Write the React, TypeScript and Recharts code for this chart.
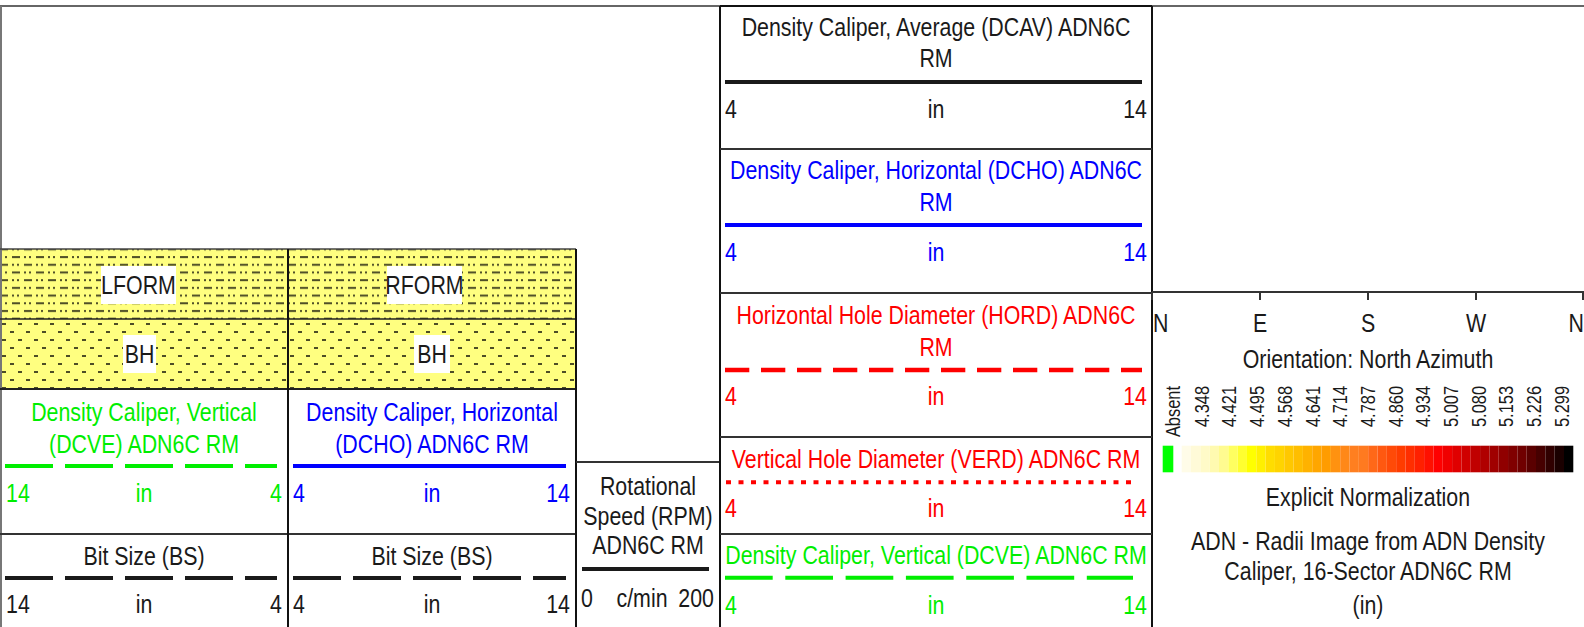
import React from "react";
import {
  ComposedChart,
  Line,
  ReferenceArea,
  ReferenceDot,
  ReferenceLine,
  XAxis,
  YAxis
} from "recharts";

const W = 1584;
const H = 627;
const FONT = "'Liberation Sans', Arial, sans-serif";
// the header font is a condensed grotesque; squeeze a regular face to match
const SQUEEZE = 0.855;

// curve headers (left tracks, rpm track, caliper track)
const curveTitles = [
  ["Density Caliper, Vertical", "(DCVE) ADN6C RM"],
  ["Bit Size (BS)"],
  ["Density Caliper, Horizontal", "(DCHO) ADN6C RM"],
  ["Bit Size (BS)"],
  ["Rotational", "Speed (RPM)", "ADN6C RM"],
  ["Density Caliper, Average (DCAV) ADN6C", "RM"],
  ["Density Caliper, Horizontal (DCHO) ADN6C", "RM"],
  ["Horizontal Hole Diameter (HORD) ADN6C", "RM"],
  ["Vertical Hole Diameter (VERD) ADN6C RM"],
  ["Density Caliper, Vertical (DCVE) ADN6C RM"]
];
const curveUnits = ["in", "in", "in", "in", "c/min", "in", "in", "in", "in", "in"];
const curveLeft = ["14", "14", "4", "4", "0", "4", "4", "4", "4", "4"];
const curveRight = ["4", "4", "14", "14", "200", "14", "14", "14", "14", "14"];

// lithology fills
const lithoNames = ["LFORM", "BH", "RFORM", "BH"];

// image track header
const compassLabels = ["N", "E", "S", "W", "N"];
const imageTitle = "Orientation: North Azimuth";
const paletteLabels = [
  "Absent", "4.348", "4.421", "4.495", "4.568", "4.641", "4.714", "4.787",
  "4.860", "4.934", "5.007", "5.080", "5.153", "5.226", "5.299"
];
const paletteColors = [
  "#fffce8", "#fffad8", "#fffac8", "#fffab0", "#fffb90", "#ffff60", "#ffff30",
  "#ffff00", "#fff000", "#ffdd00", "#ffd400", "#ffc800", "#ffbe00", "#ffb200",
  "#ffa600", "#ff9c00", "#ff9210", "#ff8818", "#ff7f20", "#ff7a20", "#ff6818",
  "#ff5810", "#ff4a08", "#ff3c00", "#ff2e00", "#ff2000", "#ff1000", "#ff0000",
  "#f00000", "#e00000", "#d00000", "#c00000", "#b00000", "#a00000", "#900000",
  "#800000", "#700000", "#5a0000", "#460000", "#300000", "#1a0000", "#000000"
];
const imageNotes = [
  "Explicit Normalization",
  "ADN - Radii Image from ADN Density",
  "Caliper, 16-Sector ADN6C RM",
  "(in)"
];

// styles
const GREEN = "#00ee00";
const BLUE = "#0000ff";
const RED = "#ff0000";
const INK = "#1a1a1a";
const curveColors = [GREEN, INK, BLUE, INK, INK, INK, BLUE, RED, RED, GREEN];
const curveDash = ["48 12", "48 12", undefined, "48 12", undefined, undefined, undefined, "24.3 11.7", "5 7.5", "47.7 12.6"];
const curveWidth = [4, 4, 4, 4, 4, 4, 4, 4.5, 4, 4];

// layout of each curve header
const boxes = [
  { cx: 144, ty: [420.7, 452.7], ly: 466, x1: 5, x2: 277, sy: 501.7, sl: 6, sr: 282, su: 144 },
  { cx: 144, ty: [565], ly: 578, x1: 5, x2: 277, sy: 613, sl: 6, sr: 282, su: 144 },
  { cx: 432, ty: [420.7, 452.7], ly: 466, x1: 293, x2: 566, sy: 501.7, sl: 293, sr: 570, su: 432 },
  { cx: 432, ty: [565], ly: 578, x1: 293, x2: 566, sy: 613, sl: 293, sr: 570, su: 432 },
  { cx: 648, ty: [494.5, 524.5, 554], ly: 569, x1: 582, x2: 709, sy: 607, sl: 581, sr: 714, su: 642 },
  { cx: 936, ty: [36, 66.7], ly: 82, x1: 725, x2: 1142, sy: 118.3, sl: 725, sr: 1147, su: 936 },
  { cx: 936, ty: [179, 211], ly: 225, x1: 725, x2: 1142, sy: 261, sl: 725, sr: 1147, su: 936 },
  { cx: 936, ty: [324, 356], ly: 370, x1: 725, x2: 1142, sy: 405, sl: 725, sr: 1147, su: 936 },
  { cx: 936, ty: [468.3], ly: 482.3, x1: 726, x2: 1133, sy: 517.3, sl: 725, sr: 1147, su: 936 },
  { cx: 936, ty: [564], ly: 577.7, x1: 725, x2: 1133, sy: 614, sl: 725, sr: 1147, su: 936 }
];

const lithoBoxes = [
  { x1: 0, x2: 288, y1: 249, y2: 319, kind: "dash", lx1: 101, lx2: 176, ly1: 266, ly2: 304, tx: 138.5, ty: 294 },
  { x1: 0, x2: 288, y1: 319, y2: 389, kind: "dot", lx1: 123, lx2: 156, ly1: 335, ly2: 373, tx: 139.5, ty: 363 },
  { x1: 288, x2: 576, y1: 249, y2: 319, kind: "dash", lx1: 387, lx2: 462, ly1: 266, ly2: 304, tx: 424.5, ty: 294 },
  { x1: 288, x2: 576, y1: 319, y2: 389, kind: "dot", lx1: 414, lx2: 450, ly1: 335, ly2: 373, tx: 432, ty: 363 }
];

// frame lines
const frame = [
  { x1: 0, y1: 6, x2: W, y2: 6, c: "#666", w: 2 },
  { x1: 720, y1: 6, x2: 1152, y2: 6, c: "#111", w: 2 },
  { x1: 1, y1: 6, x2: 1, y2: H, c: "#777", w: 2 },
  { x1: 0, y1: 249, x2: 576, y2: 249, c: "#444", w: 1.5 },
  { x1: 0, y1: 319, x2: 576, y2: 319, c: "#222", w: 1.5 },
  { x1: 0, y1: 389, x2: 576, y2: 389, c: "#222", w: 2 },
  { x1: 0, y1: 534, x2: 576, y2: 534, c: "#333", w: 2 },
  { x1: 288, y1: 249, x2: 288, y2: H, c: "#111", w: 2 },
  { x1: 576, y1: 249, x2: 576, y2: H, c: "#111", w: 2 },
  { x1: 576, y1: 462, x2: 720, y2: 462, c: "#333", w: 2 },
  { x1: 720, y1: 6, x2: 720, y2: H, c: "#111", w: 2 },
  { x1: 1152, y1: 6, x2: 1152, y2: H, c: "#111", w: 2 },
  { x1: 720, y1: 149, x2: 1152, y2: 149, c: "#333", w: 2 },
  { x1: 720, y1: 293, x2: 1152, y2: 293, c: "#333", w: 2 },
  { x1: 720, y1: 437, x2: 1152, y2: 437, c: "#333", w: 2 },
  { x1: 720, y1: 534, x2: 1152, y2: 534, c: "#333", w: 2 },
  { x1: 1152, y1: 292, x2: W, y2: 292, c: "#333", w: 2 }
];

const SIZE = 25;

type T = {
  x: number;
  y: number;
  text: string;
  color?: string;
  size?: number;
  anchor?: "start" | "middle" | "end";
  rotate?: boolean;
};

function textMark(key: string, t: T) {
  return (
    <ReferenceDot
      key={key}
      x={t.x}
      y={t.y}
      r={0}
      fill="none"
      stroke="none"
      ifOverflow="visible"
      label={{
        content: (p: any) => {
          const vb = p?.viewBox || {};
          const x = vb.x ?? p?.x ?? 0;
          const y = vb.y ?? p?.y ?? 0;
          const tf = t.rotate
            ? `translate(${x} ${y}) rotate(-90) scale(${SQUEEZE * 0.96} 1)`
            : `translate(${x} ${y}) scale(${SQUEEZE} 1)`;
          return (
            <text
              x={0}
              y={0}
              fill={t.color ?? INK}
              fontSize={t.size ?? SIZE}
              fontFamily={FONT}
              textAnchor={t.anchor ?? "middle"}
              transform={tf}
            >
              {t.text}
            </text>
          );
        }
      }}
    />
  );
}

function litho(kind: string, id: string) {
  return (p: any) => (
    <g>
      <defs>
        {kind === "dash" ? (
          <pattern id={id} width={24} height={15.4} patternUnits="userSpaceOnUse">
            <rect x={0} y={2} width={8} height={2} fill="#4d4d26" />
            <rect x={12} y={2} width={2} height={2} fill="#4d4d26" />
            <rect x={17} y={2} width={2} height={2} fill="#4d4d26" />
            <rect x={12} y={9.7} width={8} height={2} fill="#4d4d26" />
            <rect x={0} y={9.7} width={2} height={2} fill="#4d4d26" />
            <rect x={5} y={9.7} width={2} height={2} fill="#4d4d26" />
          </pattern>
        ) : (
          <pattern id={id} width={16} height={16} patternUnits="userSpaceOnUse">
            <rect x={2} y={3} width={4} height={2} fill="#4d4d26" />
            <rect x={10} y={11} width={4} height={2} fill="#4d4d26" />
          </pattern>
        )}
      </defs>
      <rect x={p.x} y={p.y} width={p.width} height={p.height} fill="#ffff80" />
      <rect x={p.x} y={p.y} width={p.width} height={p.height} fill={`url(#${id})`} />
    </g>
  );
}

export default function App() {
  const texts: T[] = [];
  boxes.forEach((b, i) => {
    const color = curveColors[i];
    curveTitles[i].forEach((line, j) => texts.push({ x: b.cx, y: b.ty[j], text: line, color }));
    texts.push({ x: b.sl, y: b.sy, text: curveLeft[i], color, anchor: "start" });
    texts.push({ x: b.su, y: b.sy, text: curveUnits[i], color });
    texts.push({ x: b.sr, y: b.sy, text: curveRight[i], color, anchor: "end" });
  });
  lithoBoxes.forEach((l, i) => texts.push({ x: l.tx, y: l.ty, text: lithoNames[i] }));

  const compassX = [1153, 1260, 1368, 1476, 1584];
  compassLabels.forEach((c, i) =>
    texts.push({
      x: compassX[i],
      y: 331.7,
      text: c,
      anchor: i === 0 ? "start" : i === compassLabels.length - 1 ? "end" : "middle"
    })
  );
  texts.push({ x: 1368, y: 368.3, text: imageTitle });
  paletteLabels.forEach((v, i) =>
    texts.push({
      x: (i === 0 ? 1173.3 : 1201.7 + (i - 1) * 27.7) + 7,
      y: 386,
      text: v,
      size: 20,
      anchor: "end",
      rotate: true
    })
  );
  const noteY = [506, 549.5, 580, 614];
  imageNotes.forEach((n, i) => texts.push({ x: 1368, y: noteY[i], text: n }));

  const barX0 = 1181.7;
  const barW = (1573.3 - barX0) / paletteColors.length;

  return (
    <div style={{ position: "absolute", left: 0, top: 0, width: W, height: H, background: "#fff" }}>
      <ComposedChart width={W} height={H} margin={{ top: 0, right: 0, bottom: 0, left: 0 }}>
        <XAxis dataKey="x" type="number" domain={[0, W]} allowDataOverflow hide />
        <YAxis type="number" domain={[0, H]} allowDataOverflow reversed hide />

        {lithoBoxes.map((l, i) => (
          <ReferenceArea
            key={`lith${i}`}
            x1={l.x1}
            x2={l.x2}
            y1={l.y1}
            y2={l.y2}
            ifOverflow="visible"
            shape={litho(l.kind, `lith${i}`)}
          />
        ))}
        {lithoBoxes.map((l, i) => (
          <ReferenceArea
            key={`lab${i}`}
            x1={l.lx1}
            x2={l.lx2}
            y1={l.ly1}
            y2={l.ly2}
            fill="#ffffff"
            fillOpacity={1}
            stroke="none"
            ifOverflow="visible"
          />
        ))}

        <ReferenceArea x1={1162.7} x2={1173.3} y1={445.7} y2={472.3} fill="#00ff00" fillOpacity={1} stroke="none" ifOverflow="visible" />
        {paletteColors.map((c, i) => (
          <ReferenceArea
            key={`pal${i}`}
            x1={barX0 + i * barW}
            x2={barX0 + (i + 1) * barW}
            y1={445.7}
            y2={472.3}
            fill={c}
            fillOpacity={1}
            stroke="none"
            ifOverflow="visible"
          />
        ))}

        {frame.map((f, i) => (
          <ReferenceLine
            key={`fr${i}`}
            segment={[{ x: f.x1, y: f.y1 }, { x: f.x2, y: f.y2 }]}
            stroke={f.c}
            strokeWidth={f.w}
            ifOverflow="visible"
          />
        ))}
        {compassX.map((x, i) => (
          <ReferenceLine
            key={`tick${i}`}
            segment={[{ x: i === 0 ? 1152 : Math.min(x, 1583), y: 292 }, { x: i === 0 ? 1152 : Math.min(x, 1583), y: 300 }]}
            stroke="#333"
            strokeWidth={2}
            ifOverflow="visible"
          />
        ))}

        {boxes.map((b, i) => (
          <Line
            key={`curve${i}`}
            data={[{ x: b.x1, y: b.ly }, { x: b.x2, y: b.ly }]}
            dataKey="y"
            type="linear"
            stroke={curveColors[i]}
            strokeWidth={curveWidth[i]}
            strokeDasharray={curveDash[i]}
            dot={false}
            activeDot={false}
            isAnimationActive={false}
          />
        ))}

        {texts.map((t, i) => textMark(`t${i}`, t))}
      </ComposedChart>
    </div>
  );
}
